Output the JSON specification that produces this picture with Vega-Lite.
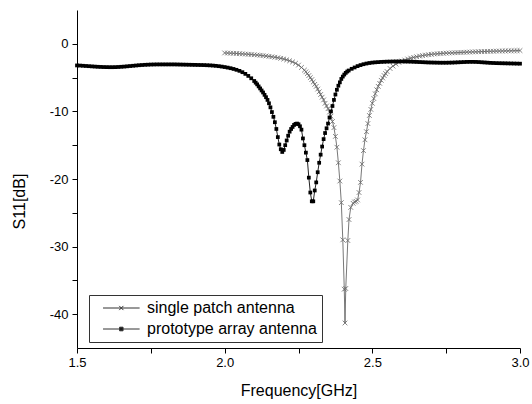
{
  "$schema": "https://vega.github.io/schema/vega-lite/v6.json",
  "width": 443,
  "height": 338,
  "autosize": "none",
  "padding": {"left": 77, "top": 10, "right": 12, "bottom": 56},
  "background": "white",
  "config": {"view": {"stroke": null}, "font": "Liberation Sans"},
  "data": {"values": [
    {"antenna":"single","freq":2.00,"s11":-1.35},{"antenna":"single","freq":2.01,"s11":-1.37},{"antenna":"single","freq":2.02,"s11":-1.39},{"antenna":"single","freq":2.03,"s11":-1.41},{"antenna":"single","freq":2.04,"s11":-1.43},{"antenna":"single","freq":2.05,"s11":-1.46},{"antenna":"single","freq":2.06,"s11":-1.49},{"antenna":"single","freq":2.07,"s11":-1.52},{"antenna":"single","freq":2.08,"s11":-1.55},{"antenna":"single","freq":2.09,"s11":-1.58},
    {"antenna":"single","freq":2.10,"s11":-1.62},{"antenna":"single","freq":2.11,"s11":-1.66},{"antenna":"single","freq":2.12,"s11":-1.70},{"antenna":"single","freq":2.13,"s11":-1.75},{"antenna":"single","freq":2.14,"s11":-1.80},{"antenna":"single","freq":2.15,"s11":-1.86},{"antenna":"single","freq":2.16,"s11":-1.92},{"antenna":"single","freq":2.17,"s11":-1.99},{"antenna":"single","freq":2.18,"s11":-2.06},{"antenna":"single","freq":2.19,"s11":-2.15},
    {"antenna":"single","freq":2.20,"s11":-2.25},{"antenna":"single","freq":2.21,"s11":-2.37},{"antenna":"single","freq":2.22,"s11":-2.51},{"antenna":"single","freq":2.23,"s11":-2.68},{"antenna":"single","freq":2.24,"s11":-2.88},{"antenna":"single","freq":2.25,"s11":-3.15},{"antenna":"single","freq":2.26,"s11":-3.5},{"antenna":"single","freq":2.27,"s11":-3.9},{"antenna":"single","freq":2.275,"s11":-4.15},{"antenna":"single","freq":2.28,"s11":-4.4},
    {"antenna":"single","freq":2.285,"s11":-4.7},{"antenna":"single","freq":2.29,"s11":-5.0},{"antenna":"single","freq":2.295,"s11":-5.3},{"antenna":"single","freq":2.30,"s11":-5.65},{"antenna":"single","freq":2.305,"s11":-6.0},{"antenna":"single","freq":2.31,"s11":-6.3},{"antenna":"single","freq":2.315,"s11":-6.7},{"antenna":"single","freq":2.32,"s11":-7.1},{"antenna":"single","freq":2.325,"s11":-7.5},{"antenna":"single","freq":2.33,"s11":-7.9},
    {"antenna":"single","freq":2.335,"s11":-8.3},{"antenna":"single","freq":2.34,"s11":-8.8},{"antenna":"single","freq":2.345,"s11":-9.2},{"antenna":"single","freq":2.35,"s11":-9.6},{"antenna":"single","freq":2.355,"s11":-10.1},{"antenna":"single","freq":2.36,"s11":-10.7},{"antenna":"single","freq":2.365,"s11":-11.5},{"antenna":"single","freq":2.37,"s11":-12.4},{"antenna":"single","freq":2.375,"s11":-13.7},{"antenna":"single","freq":2.38,"s11":-15.3},
    {"antenna":"single","freq":2.385,"s11":-17.6},{"antenna":"single","freq":2.39,"s11":-20.3},{"antenna":"single","freq":2.395,"s11":-23.5},{"antenna":"single","freq":2.40,"s11":-29.0},{"antenna":"single","freq":2.405,"s11":-36.3},{"antenna":"single","freq":2.4075,"s11":-41.3},{"antenna":"single","freq":2.41,"s11":-36.2},{"antenna":"single","freq":2.417,"s11":-29.1},{"antenna":"single","freq":2.421,"s11":-26.0},{"antenna":"single","freq":2.427,"s11":-24.2},
    {"antenna":"single","freq":2.435,"s11":-23.6},{"antenna":"single","freq":2.44,"s11":-23.4},{"antenna":"single","freq":2.445,"s11":-23.3},{"antenna":"single","freq":2.45,"s11":-23.1},{"antenna":"single","freq":2.455,"s11":-22.0},{"antenna":"single","freq":2.46,"s11":-20.5},{"antenna":"single","freq":2.465,"s11":-17.8},{"antenna":"single","freq":2.47,"s11":-15.8},{"antenna":"single","freq":2.475,"s11":-14.2},{"antenna":"single","freq":2.48,"s11":-13.0},
    {"antenna":"single","freq":2.485,"s11":-11.8},{"antenna":"single","freq":2.49,"s11":-10.6},{"antenna":"single","freq":2.495,"s11":-9.7},{"antenna":"single","freq":2.50,"s11":-8.8},{"antenna":"single","freq":2.505,"s11":-8.1},{"antenna":"single","freq":2.51,"s11":-7.4},{"antenna":"single","freq":2.515,"s11":-6.8},{"antenna":"single","freq":2.52,"s11":-6.3},{"antenna":"single","freq":2.525,"s11":-5.85},{"antenna":"single","freq":2.53,"s11":-5.4},
    {"antenna":"single","freq":2.535,"s11":-5.05},{"antenna":"single","freq":2.54,"s11":-4.7},{"antenna":"single","freq":2.545,"s11":-4.4},{"antenna":"single","freq":2.55,"s11":-4.1},{"antenna":"single","freq":2.56,"s11":-3.65},{"antenna":"single","freq":2.57,"s11":-3.3},{"antenna":"single","freq":2.58,"s11":-3.0},{"antenna":"single","freq":2.59,"s11":-2.75},{"antenna":"single","freq":2.60,"s11":-2.55},{"antenna":"single","freq":2.61,"s11":-2.4},
    {"antenna":"single","freq":2.62,"s11":-2.25},{"antenna":"single","freq":2.63,"s11":-2.12},{"antenna":"single","freq":2.64,"s11":-2.01},{"antenna":"single","freq":2.65,"s11":-1.91},{"antenna":"single","freq":2.66,"s11":-1.82},{"antenna":"single","freq":2.67,"s11":-1.74},{"antenna":"single","freq":2.68,"s11":-1.67},{"antenna":"single","freq":2.69,"s11":-1.61},{"antenna":"single","freq":2.70,"s11":-1.56},{"antenna":"single","freq":2.71,"s11":-1.51},
    {"antenna":"single","freq":2.72,"s11":-1.47},{"antenna":"single","freq":2.73,"s11":-1.44},{"antenna":"single","freq":2.74,"s11":-1.41},{"antenna":"single","freq":2.75,"s11":-1.38},{"antenna":"single","freq":2.76,"s11":-1.36},{"antenna":"single","freq":2.77,"s11":-1.34},{"antenna":"single","freq":2.78,"s11":-1.32},{"antenna":"single","freq":2.79,"s11":-1.30},{"antenna":"single","freq":2.80,"s11":-1.28},{"antenna":"single","freq":2.81,"s11":-1.26},
    {"antenna":"single","freq":2.82,"s11":-1.24},{"antenna":"single","freq":2.83,"s11":-1.22},{"antenna":"single","freq":2.84,"s11":-1.20},{"antenna":"single","freq":2.85,"s11":-1.19},{"antenna":"single","freq":2.86,"s11":-1.17},{"antenna":"single","freq":2.87,"s11":-1.15},{"antenna":"single","freq":2.88,"s11":-1.14},{"antenna":"single","freq":2.89,"s11":-1.12},{"antenna":"single","freq":2.90,"s11":-1.11},{"antenna":"single","freq":2.91,"s11":-1.10},
    {"antenna":"single","freq":2.92,"s11":-1.08},{"antenna":"single","freq":2.93,"s11":-1.07},{"antenna":"single","freq":2.94,"s11":-1.06},{"antenna":"single","freq":2.95,"s11":-1.05},{"antenna":"single","freq":2.96,"s11":-1.04},{"antenna":"single","freq":2.97,"s11":-1.03},{"antenna":"single","freq":2.98,"s11":-1.02},{"antenna":"single","freq":2.99,"s11":-1.01},{"antenna":"single","freq":3.00,"s11":-1.00},

    {"antenna":"array","freq":1.50,"s11":-3.20},{"antenna":"array","freq":1.51,"s11":-3.22},{"antenna":"array","freq":1.52,"s11":-3.25},{"antenna":"array","freq":1.53,"s11":-3.28},{"antenna":"array","freq":1.54,"s11":-3.31},{"antenna":"array","freq":1.55,"s11":-3.34},{"antenna":"array","freq":1.56,"s11":-3.37},{"antenna":"array","freq":1.57,"s11":-3.40},{"antenna":"array","freq":1.58,"s11":-3.42},{"antenna":"array","freq":1.59,"s11":-3.44},
    {"antenna":"array","freq":1.60,"s11":-3.45},{"antenna":"array","freq":1.61,"s11":-3.46},{"antenna":"array","freq":1.62,"s11":-3.46},{"antenna":"array","freq":1.63,"s11":-3.45},{"antenna":"array","freq":1.64,"s11":-3.43},{"antenna":"array","freq":1.65,"s11":-3.40},{"antenna":"array","freq":1.66,"s11":-3.37},{"antenna":"array","freq":1.67,"s11":-3.33},{"antenna":"array","freq":1.68,"s11":-3.29},{"antenna":"array","freq":1.69,"s11":-3.25},
    {"antenna":"array","freq":1.70,"s11":-3.21},{"antenna":"array","freq":1.71,"s11":-3.17},{"antenna":"array","freq":1.72,"s11":-3.14},{"antenna":"array","freq":1.73,"s11":-3.11},{"antenna":"array","freq":1.74,"s11":-3.09},{"antenna":"array","freq":1.75,"s11":-3.07},{"antenna":"array","freq":1.76,"s11":-3.06},{"antenna":"array","freq":1.77,"s11":-3.05},{"antenna":"array","freq":1.78,"s11":-3.05},{"antenna":"array","freq":1.79,"s11":-3.05},
    {"antenna":"array","freq":1.80,"s11":-3.05},{"antenna":"array","freq":1.81,"s11":-3.05},{"antenna":"array","freq":1.82,"s11":-3.05},{"antenna":"array","freq":1.83,"s11":-3.05},{"antenna":"array","freq":1.84,"s11":-3.06},{"antenna":"array","freq":1.85,"s11":-3.07},{"antenna":"array","freq":1.86,"s11":-3.08},{"antenna":"array","freq":1.87,"s11":-3.09},{"antenna":"array","freq":1.88,"s11":-3.10},{"antenna":"array","freq":1.89,"s11":-3.11},
    {"antenna":"array","freq":1.90,"s11":-3.12},{"antenna":"array","freq":1.91,"s11":-3.13},{"antenna":"array","freq":1.92,"s11":-3.14},{"antenna":"array","freq":1.93,"s11":-3.15},{"antenna":"array","freq":1.94,"s11":-3.17},{"antenna":"array","freq":1.95,"s11":-3.19},{"antenna":"array","freq":1.96,"s11":-3.22},{"antenna":"array","freq":1.97,"s11":-3.26},{"antenna":"array","freq":1.98,"s11":-3.31},{"antenna":"array","freq":1.99,"s11":-3.37},
    {"antenna":"array","freq":2.00,"s11":-3.44},{"antenna":"array","freq":2.01,"s11":-3.52},{"antenna":"array","freq":2.02,"s11":-3.61},{"antenna":"array","freq":2.03,"s11":-3.72},{"antenna":"array","freq":2.04,"s11":-3.85},{"antenna":"array","freq":2.05,"s11":-4.00},{"antenna":"array","freq":2.06,"s11":-4.20},{"antenna":"array","freq":2.07,"s11":-4.45},{"antenna":"array","freq":2.08,"s11":-4.75},{"antenna":"array","freq":2.09,"s11":-5.10},
    {"antenna":"array","freq":2.10,"s11":-5.50},{"antenna":"array","freq":2.105,"s11":-5.75},{"antenna":"array","freq":2.11,"s11":-6.0},{"antenna":"array","freq":2.115,"s11":-6.3},{"antenna":"array","freq":2.12,"s11":-6.6},{"antenna":"array","freq":2.125,"s11":-6.9},{"antenna":"array","freq":2.13,"s11":-7.2},{"antenna":"array","freq":2.135,"s11":-7.55},{"antenna":"array","freq":2.14,"s11":-7.9},{"antenna":"array","freq":2.145,"s11":-8.3},
    {"antenna":"array","freq":2.15,"s11":-8.8},{"antenna":"array","freq":2.155,"s11":-9.4},{"antenna":"array","freq":2.16,"s11":-10.1},{"antenna":"array","freq":2.165,"s11":-10.8},{"antenna":"array","freq":2.17,"s11":-11.6},{"antenna":"array","freq":2.175,"s11":-12.6},{"antenna":"array","freq":2.18,"s11":-13.8},{"antenna":"array","freq":2.185,"s11":-14.9},{"antenna":"array","freq":2.19,"s11":-15.6},{"antenna":"array","freq":2.195,"s11":-16.0},
    {"antenna":"array","freq":2.20,"s11":-15.7},{"antenna":"array","freq":2.205,"s11":-15.0},{"antenna":"array","freq":2.21,"s11":-14.3},{"antenna":"array","freq":2.215,"s11":-13.6},{"antenna":"array","freq":2.22,"s11":-13.0},{"antenna":"array","freq":2.225,"s11":-12.6},{"antenna":"array","freq":2.23,"s11":-12.3},{"antenna":"array","freq":2.235,"s11":-12.0},{"antenna":"array","freq":2.24,"s11":-11.85},{"antenna":"array","freq":2.245,"s11":-11.8},
    {"antenna":"array","freq":2.25,"s11":-11.9},{"antenna":"array","freq":2.255,"s11":-12.2},{"antenna":"array","freq":2.26,"s11":-12.7},{"antenna":"array","freq":2.265,"s11":-14.0},{"antenna":"array","freq":2.27,"s11":-15.0},{"antenna":"array","freq":2.275,"s11":-16.1},{"antenna":"array","freq":2.28,"s11":-17.2},{"antenna":"array","freq":2.285,"s11":-19.8},{"antenna":"array","freq":2.29,"s11":-22.0},{"antenna":"array","freq":2.295,"s11":-23.3},
    {"antenna":"array","freq":2.30,"s11":-23.3},{"antenna":"array","freq":2.305,"s11":-21.7},{"antenna":"array","freq":2.31,"s11":-20.5},{"antenna":"array","freq":2.315,"s11":-19.0},{"antenna":"array","freq":2.32,"s11":-17.6},{"antenna":"array","freq":2.325,"s11":-16.4},{"antenna":"array","freq":2.33,"s11":-15.2},{"antenna":"array","freq":2.335,"s11":-14.1},{"antenna":"array","freq":2.34,"s11":-13.2},{"antenna":"array","freq":2.345,"s11":-12.5},
    {"antenna":"array","freq":2.35,"s11":-11.8},{"antenna":"array","freq":2.355,"s11":-10.9},{"antenna":"array","freq":2.36,"s11":-10.0},{"antenna":"array","freq":2.365,"s11":-9.2},{"antenna":"array","freq":2.37,"s11":-8.3},{"antenna":"array","freq":2.375,"s11":-7.5},{"antenna":"array","freq":2.38,"s11":-6.8},{"antenna":"array","freq":2.385,"s11":-6.2},{"antenna":"array","freq":2.39,"s11":-5.7},{"antenna":"array","freq":2.395,"s11":-5.2},
    {"antenna":"array","freq":2.40,"s11":-4.85},{"antenna":"array","freq":2.405,"s11":-4.55},{"antenna":"array","freq":2.41,"s11":-4.3},{"antenna":"array","freq":2.415,"s11":-4.1},{"antenna":"array","freq":2.42,"s11":-3.95},{"antenna":"array","freq":2.43,"s11":-3.7},{"antenna":"array","freq":2.44,"s11":-3.5},{"antenna":"array","freq":2.45,"s11":-3.3},{"antenna":"array","freq":2.46,"s11":-3.15},{"antenna":"array","freq":2.47,"s11":-3.02},
    {"antenna":"array","freq":2.48,"s11":-2.92},{"antenna":"array","freq":2.49,"s11":-2.84},{"antenna":"array","freq":2.50,"s11":-2.78},{"antenna":"array","freq":2.51,"s11":-2.74},{"antenna":"array","freq":2.52,"s11":-2.71},{"antenna":"array","freq":2.53,"s11":-2.68},{"antenna":"array","freq":2.54,"s11":-2.66},{"antenna":"array","freq":2.55,"s11":-2.64},{"antenna":"array","freq":2.56,"s11":-2.63},{"antenna":"array","freq":2.57,"s11":-2.62},
    {"antenna":"array","freq":2.58,"s11":-2.61},{"antenna":"array","freq":2.59,"s11":-2.61},{"antenna":"array","freq":2.60,"s11":-2.61},{"antenna":"array","freq":2.61,"s11":-2.62},{"antenna":"array","freq":2.62,"s11":-2.63},{"antenna":"array","freq":2.63,"s11":-2.64},{"antenna":"array","freq":2.64,"s11":-2.66},{"antenna":"array","freq":2.65,"s11":-2.68},{"antenna":"array","freq":2.66,"s11":-2.70},{"antenna":"array","freq":2.67,"s11":-2.72},
    {"antenna":"array","freq":2.68,"s11":-2.74},{"antenna":"array","freq":2.69,"s11":-2.76},{"antenna":"array","freq":2.70,"s11":-2.77},{"antenna":"array","freq":2.71,"s11":-2.78},{"antenna":"array","freq":2.72,"s11":-2.79},{"antenna":"array","freq":2.73,"s11":-2.80},{"antenna":"array","freq":2.74,"s11":-2.80},{"antenna":"array","freq":2.75,"s11":-2.80},{"antenna":"array","freq":2.76,"s11":-2.79},{"antenna":"array","freq":2.77,"s11":-2.78},
    {"antenna":"array","freq":2.78,"s11":-2.76},{"antenna":"array","freq":2.79,"s11":-2.74},{"antenna":"array","freq":2.80,"s11":-2.72},{"antenna":"array","freq":2.81,"s11":-2.70},{"antenna":"array","freq":2.82,"s11":-2.68},{"antenna":"array","freq":2.83,"s11":-2.67},{"antenna":"array","freq":2.84,"s11":-2.67},{"antenna":"array","freq":2.85,"s11":-2.68},{"antenna":"array","freq":2.86,"s11":-2.70},{"antenna":"array","freq":2.87,"s11":-2.73},
    {"antenna":"array","freq":2.88,"s11":-2.76},{"antenna":"array","freq":2.89,"s11":-2.79},{"antenna":"array","freq":2.90,"s11":-2.82},{"antenna":"array","freq":2.91,"s11":-2.84},{"antenna":"array","freq":2.92,"s11":-2.86},{"antenna":"array","freq":2.93,"s11":-2.87},{"antenna":"array","freq":2.94,"s11":-2.88},{"antenna":"array","freq":2.95,"s11":-2.89},{"antenna":"array","freq":2.96,"s11":-2.90},{"antenna":"array","freq":2.97,"s11":-2.91},
    {"antenna":"array","freq":2.98,"s11":-2.92},{"antenna":"array","freq":2.99,"s11":-2.93},{"antenna":"array","freq":3.00,"s11":-2.94}
  ]},
  "encoding": {
    "x": {
      "field": "freq", "type": "quantitative",
      "scale": {"domain": [1.5, 3.0], "nice": false, "zero": false},
      "axis": {
        "title": "Frequency[GHz]",
        "values": [1.5, 1.75, 2.0, 2.25, 2.5, 2.75, 3.0],
        "labelExpr": "(datum.value * 2) % 1 == 0 ? format(datum.value, '.1f') : ''",
        "labelFlush": false, "labelOverlap": false,
        "grid": false, "tickSize": 5, "tickColor": "#000", "domainColor": "#000",
        "labelFontSize": 13, "labelColor": "#000", "labelPadding": 3, "labelFont": "Liberation Sans",
        "titleFontSize": 16, "titleFontWeight": "normal", "titleColor": "#000", "titlePadding": 13, "titleFont": "Liberation Sans"
      }
    },
    "y": {
      "field": "s11", "type": "quantitative",
      "scale": {"domain": [-45, 5], "nice": false, "zero": false},
      "axis": {
        "title": "S11[dB]",
        "values": [-40, -35, -30, -25, -20, -15, -10, -5, 0],
        "labelExpr": "datum.value % 10 == 0 ? '' + datum.value : ''",
        "labelFlush": false, "labelOverlap": false,
        "grid": false, "tickSize": 5, "tickColor": "#000", "domainColor": "#000",
        "labelFontSize": 13, "labelColor": "#000", "labelPadding": 4, "labelFont": "Liberation Sans",
        "titleFontSize": 16, "titleFontWeight": "normal", "titleColor": "#000", "titleFont": "Liberation Sans",
        "titleX": -58, "titleY": 191, "titleBaseline": "middle", "titleAlign": "center", "titleAngle": -90
      }
    }
  },
  "layer": [
    {
      "transform": [{"filter": "datum.antenna == 'single'"}],
      "mark": {"type": "line", "color": "#555", "strokeWidth": 0.8}
    },
    {
      "transform": [{"filter": "datum.antenna == 'single'"}],
      "mark": {"type": "point", "shape": "M-1,-1L1,1M-1,1L1,-1", "size": 22, "stroke": "#666", "strokeWidth": 0.8, "filled": false, "opacity": 1}
    },
    {
      "transform": [{"filter": "datum.antenna == 'array'"}],
      "mark": {"type": "line", "color": "#222", "strokeWidth": 1}
    },
    {
      "transform": [{"filter": "datum.antenna == 'array'"}],
      "mark": {"type": "point", "shape": "square", "size": 14, "color": "#000", "filled": true, "opacity": 1}
    },
    {
      "mark": {"type": "point", "opacity": 0, "filled": true, "fill": "#000", "stroke": "#333", "strokeWidth": 1},
      "encoding": {
        "shape": {
          "field": "antenna", "type": "nominal",
          "scale": {"domain": ["single", "array"], "range": ["M0.17,0L6.27,0M2.87,-0.35L3.57,0.35M2.87,0.35L3.57,-0.35", "M0.17,0L6.27,0M2.93,-0.3L3.51,-0.3L3.51,0.3L2.93,0.3Z"]},
          "legend": {
            "title": null, "orient": "none", "legendX": 12, "legendY": 285, "direction": "vertical",
            "padding": 5, "strokeColor": "#333", "fillColor": "white",
            "symbolSize": 144, "symbolStrokeWidth": 1, "symbolOpacity": 1,
            "labelFontSize": 16, "labelFont": "Liberation Sans", "labelColor": "#000", "labelOffset": 37, "labelLimit": 0,
            "rowPadding": 5,
            "labelExpr": "datum.value == 'single' ? 'single patch antenna' : 'prototype array antenna'"
          }
        }
      }
    }
  ]
}
